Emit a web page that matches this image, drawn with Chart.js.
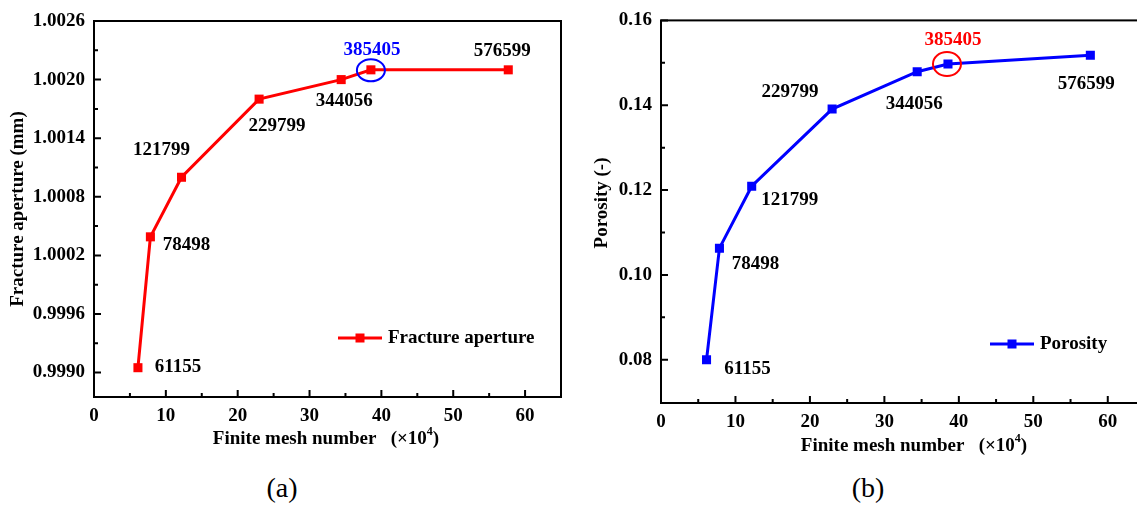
<!DOCTYPE html>
<html>
<head>
<meta charset="utf-8">
<script src="https://cdn.jsdelivr.net/npm/chart.js@4.4.0/dist/chart.umd.min.js"></script>
<style>
    html, body { margin: 0; padding: 0; background: #fff; width: 1137px; height: 511px; overflow: hidden; position: relative; }
    #wrapA { position: absolute; left: 0; top: 0; }
    #wrapB { position: absolute; left: 570px; top: 0; }
    .cap { position: absolute; top: 472px; width: 60px; text-align: center; font: 28px 'Liberation Serif', 'Times New Roman', serif; color: #000; }
</style>
</head>
<body>
<div id="wrapA"><canvas id="chartA" width="570" height="470"></canvas></div>
<div id="wrapB"><canvas id="chartB" width="590" height="470"></canvas></div>
<div class="cap" style="left:252px">(a)</div>
<div class="cap" style="left:838px">(b)</div>
<script>
// Mesh sizes (element counts) and their value in units of 10^4
const meshLabels = ['61155', '78498', '121799', '229799', '344056', '385405', '576599'];
const meshNumber = [6.1155, 7.8498, 12.1799, 22.9799, 34.4056, 38.5405, 57.6599];

// Series
const apertureValues = [0.99905, 1.00039, 1.00100, 1.00180, 1.00200, 1.00210, 1.00210];
const porosityValues = [0.0800, 0.1063, 0.1209, 0.1391, 0.1479, 0.1497, 0.1518];

// Axis ticks
const xTicks = [0, 10, 20, 30, 40, 50, 60];
const xMinorTicks = [5, 15, 25, 35, 45, 55];
const apertureTicks = [0.9990, 0.9996, 1.0002, 1.0008, 1.0014, 1.0020, 1.0026];
const apertureMinor = [0.9993, 0.9999, 1.0005, 1.0011, 1.0017, 1.0023];
const porosityTicks = [0.08, 0.10, 0.12, 0.14, 0.16];
const porosityMinor = [0.09, 0.11, 0.13, 0.15];

const FONT = "'Liberation Serif', 'Times New Roman', serif";

// label offsets (px) from each point
const apertureLabelOffsets = [[40, -1], [36, 8], [-20, -27], [18, 27], [3, 21], [1, -20], [-6, -19]];
const porosityLabelOffsets = [[41, 9], [36, 16], [38, 14], [-42, -17], [-3, 32], [5, -24], [-4, 29]];

const decorPlugin = {
    id: 'decor',
    afterDraw(chart, args, opts) {
        const { ctx, chartArea: a, scales: { x, y } } = chart;
        ctx.save();

        // frame
        ctx.strokeStyle = '#000';
        ctx.lineWidth = 2;
        ctx.strokeRect(a.left, a.top, a.right - a.left, a.bottom - a.top);

        // inward ticks
        ctx.beginPath();
        xTicks.forEach(v => { const p = x.getPixelForValue(v); ctx.moveTo(p, a.bottom); ctx.lineTo(p, a.bottom - 7); });
        xMinorTicks.forEach(v => { const p = x.getPixelForValue(v); ctx.moveTo(p, a.bottom); ctx.lineTo(p, a.bottom - 4); });
        opts.yMajor.forEach(v => { const p = y.getPixelForValue(v); ctx.moveTo(a.left, p); ctx.lineTo(a.left + 7, p); });
        opts.yMinor.forEach(v => { const p = y.getPixelForValue(v); ctx.moveTo(a.left, p); ctx.lineTo(a.left + 4, p); });
        ctx.stroke();

        // point labels
        const meta = chart.getDatasetMeta(0);
        ctx.font = 'bold 19px ' + FONT;
        ctx.textAlign = 'center';
        ctx.textBaseline = 'middle';
        meshLabels.forEach((lab, i) => {
            const pt = meta.data[i];
            const off = opts.offsets[i];
            ctx.fillStyle = i === opts.highlight ? opts.hiColor : '#000';
            ctx.fillText(lab, pt.x + off[0], pt.y + off[1]);
        });

        // circle round the chosen mesh
        const hp = meta.data[opts.highlight];
        ctx.strokeStyle = opts.hiColor;
        ctx.lineWidth = 2;
        ctx.beginPath();
        ctx.ellipse(hp.x + opts.ring[0], hp.y + opts.ring[1], opts.ring[2], opts.ring[3], 0, 0, Math.PI * 2);
        ctx.stroke();

        // legend
        const lg = opts.legend;
        ctx.strokeStyle = opts.color;
        ctx.fillStyle = opts.color;
        ctx.lineWidth = 3;
        ctx.beginPath();
        ctx.moveTo(lg.x, lg.y);
        ctx.lineTo(lg.x + 44, lg.y);
        ctx.stroke();
        ctx.fillRect(lg.x + 22 - 4.5, lg.y - 4.5, 9, 9);
        ctx.fillStyle = '#000';
        ctx.textAlign = 'left';
        ctx.fillText(opts.name, lg.x + 50, lg.y);

        // y axis title
        ctx.save();
        ctx.translate(opts.yTitle[0], opts.yTitle[1]);
        ctx.rotate(-Math.PI / 2);
        ctx.textAlign = 'center';
        ctx.fillText(opts.yLabel, 0, 0);
        ctx.restore();

        // x axis title with superscript
        const main = 'Finite mesh number   (\u00d710';
        const w1 = ctx.measureText(main).width;
        ctx.font = 'bold 12px ' + FONT;
        const w2 = ctx.measureText('4').width;
        ctx.font = 'bold 19px ' + FONT;
        const w3 = ctx.measureText(')').width;
        let sx = opts.xTitle[0] - (w1 + w2 + w3) / 2;
        const sy = opts.xTitle[1];
        ctx.textAlign = 'left';
        ctx.fillText(main, sx, sy);
        ctx.font = 'bold 12px ' + FONT;
        ctx.fillText('4', sx + w1, sy - 7);
        ctx.font = 'bold 19px ' + FONT;
        ctx.fillText(')', sx + w1 + w2, sy);

        ctx.restore();
    }
};

function makeChart(id, values, color, yMin, yMax, yTicks, yMinor, digits, cfg) {
    return new Chart(document.getElementById(id), {
        type: 'line',
        data: {
            datasets: [{
                data: meshNumber.map((m, i) => ({ x: m, y: values[i] })),
                borderColor: color,
                backgroundColor: color,
                borderWidth: 3,
                pointStyle: 'rect',
                pointRadius: 6.4,
                pointBorderWidth: 0,
                tension: 0
            }]
        },
        options: {
            responsive: false,
            animation: false,
            devicePixelRatio: 1,
            layout: { padding: { top: cfg.top, right: cfg.right, left: 0, bottom: 0 } },
            plugins: {
                legend: { display: false },
                tooltip: { enabled: false },
                decor: {
                    yMajor: yTicks, yMinor: yMinor, offsets: cfg.offsets,
                    highlight: 5, hiColor: cfg.hiColor, ring: cfg.ring,
                    legend: cfg.legend, color: color, name: cfg.name,
                    yLabel: cfg.yLabel, yTitle: cfg.yTitle, xTitle: cfg.xTitle
                }
            },
            scales: {
                x: {
                    type: 'linear', min: 0, max: 65,
                    afterBuildTicks: s => { s.ticks = xTicks.map(v => ({ value: v })); },
                    afterFit: s => { s.height = cfg.xAxisH; },
                    grid: { display: false, drawTicks: false },
                    border: { display: false },
                    ticks: { color: '#000', padding: 8, maxRotation: 0, font: { family: FONT, size: 19, weight: 'bold' } }
                },
                y: {
                    type: 'linear', min: yMin, max: yMax,
                    afterBuildTicks: s => { s.ticks = yTicks.map(v => ({ value: v })); },
                    afterFit: s => { s.width = cfg.yAxisW; },
                    grid: { display: false, drawTicks: false },
                    border: { display: false },
                    ticks: { color: '#000', padding: 9, callback: v => Number(v).toFixed(digits), font: { family: FONT, size: 19, weight: 'bold' } }
                }
            }
        },
        plugins: [decorPlugin]
    });
}

makeChart('chartA', apertureValues, '#ff0000', 0.99875, 1.0026, apertureTicks, apertureMinor, 4, {
    top: 21, right: 9, xAxisH: 73, yAxisW: 94,
    offsets: apertureLabelOffsets, hiColor: '#0000ff', ring: [0, 0.5, 14, 11],
    legend: { x: 338, y: 338 }, name: 'Fracture aperture',
    yLabel: 'Fracture aperture (mm)', yTitle: [18, 209], xTitle: [326, 439]
});

makeChart('chartB', porosityValues, '#0000ff', 0.0698, 0.16, porosityTicks, porosityMinor, 2, {
    top: 14, right: 15, xAxisH: 67, yAxisW: 91,
    offsets: porosityLabelOffsets, hiColor: '#ff0000', ring: [-1, 0, 14, 12],
    legend: { x: 420, y: 344 }, name: 'Porosity',
    yLabel: 'Porosity (-)', yTitle: [32, 203], xTitle: [344, 446]
});
</script>
</body>
</html>
